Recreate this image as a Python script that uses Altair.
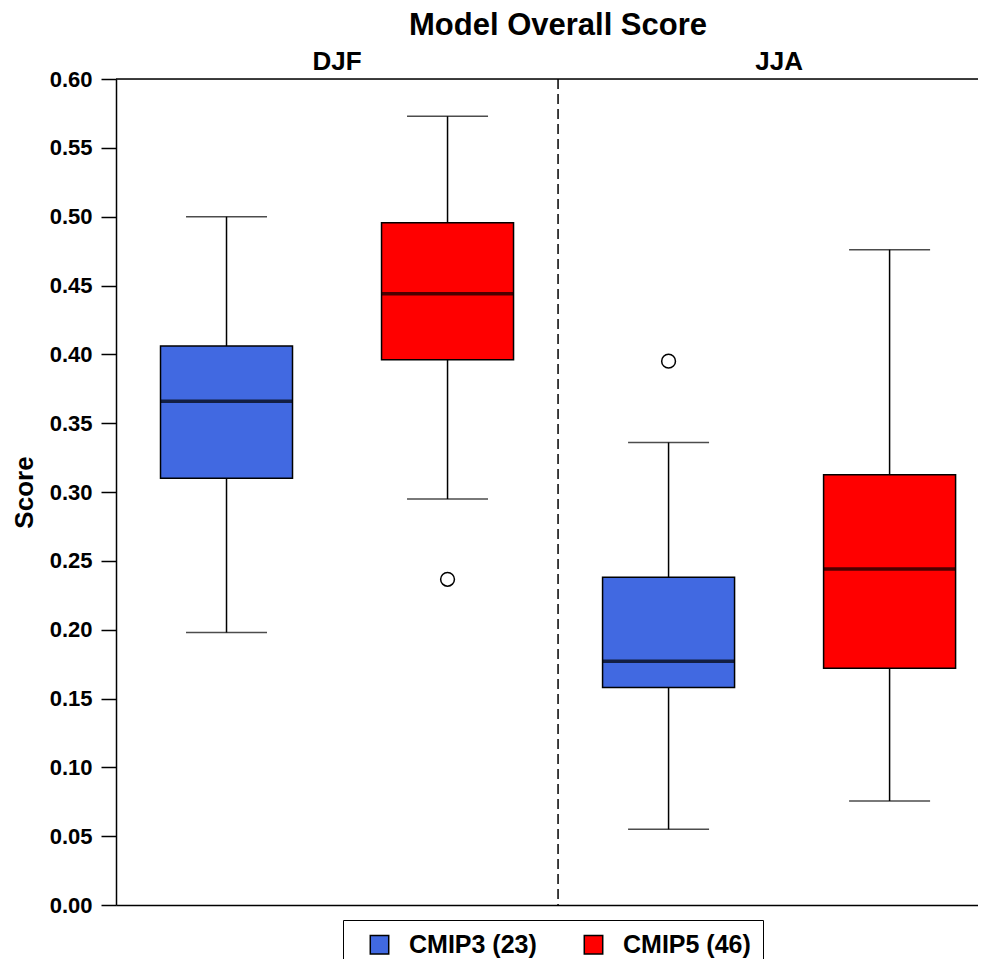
import altair as alt
import pandas as pd

# ---- data ----
seasons = ["DJF", "JJA"]
models = ["CMIP3 (23)", "CMIP5 (46)"]
model_colors = ["#4169E1", "#FF0000"]

box_season = ["DJF", "DJF", "JJA", "JJA"]
box_model = ["CMIP3 (23)", "CMIP5 (46)", "CMIP3 (23)", "CMIP5 (46)"]
whisker_low = [0.198, 0.295, 0.055, 0.0755]
quart_low = [0.310, 0.396, 0.158, 0.172]
medians = [0.366, 0.444, 0.177, 0.244]
quart_high = [0.406, 0.4955, 0.238, 0.3125]
whisker_high = [0.500, 0.573, 0.336, 0.476]

outlier_season = ["DJF", "JJA"]
outlier_model = ["CMIP5 (46)", "CMIP3 (23)"]
outlier_value = [0.2366, 0.3950]

y_ticks = [0.00, 0.05, 0.10, 0.15, 0.20, 0.25, 0.30, 0.35, 0.40, 0.45, 0.50, 0.55, 0.60]

FONT = "Liberation Sans"


def slot(season, model):
    return seasons.index(season) * len(models) + models.index(model) + 1


boxes = pd.DataFrame({
    "season": box_season,
    "model": box_model,
    "low": whisker_low,
    "q1": quart_low,
    "median": medians,
    "q3": quart_high,
    "high": whisker_high,
})
boxes["slot"] = [slot(s, m) for s, m in zip(box_season, box_model)]

outliers = pd.DataFrame({"season": outlier_season, "model": outlier_model, "value": outlier_value})
outliers["slot"] = [slot(s, m) for s, m in zip(outlier_season, outlier_model)]

headers = pd.DataFrame({"season": seasons})
headers["center"] = [i * len(models) + (len(models) + 1) / 2 for i in range(len(seasons))]

separators = pd.DataFrame({"slot": [(i + 1) * len(models) + 0.5 for i in range(len(seasons) - 1)]})

frame_top = pd.DataFrame({"y": [y_ticks[-1]]})

x_scale = alt.Scale(domain=[0.5, 4.4], nice=False, zero=False, padding=0)
y_scale = alt.Scale(domain=[y_ticks[0], y_ticks[-1]], nice=False, padding=0)

x_bottom = alt.Axis(orient="bottom", labels=False, ticks=False, grid=False, title=None,
                    domainColor="black", domainWidth=1.5)
y_axis = alt.Axis(values=y_ticks, format=".2f", grid=False,
                  labelFont=FONT, labelFontSize=22, labelFontWeight="bold", labelColor="black",
                  labelPadding=9, tickSize=15, tickWidth=1.5, tickColor="black",
                  domainColor="black", domainWidth=1.5,
                  title="Score", titleFont=FONT, titleFontSize=26, titleFontWeight="bold",
                  titleColor="black", titlePadding=12)

base = alt.Chart(boxes)

whiskers = base.mark_rule(color="black", strokeWidth=1.5).encode(
    x=alt.X("slot:Q", scale=x_scale, axis=x_bottom),
    y=alt.Y("low:Q", scale=y_scale, axis=y_axis),
    y2="high:Q",
)
caps_low = base.mark_tick(orient="horizontal", size=81, thickness=1.5, color="black").encode(
    x="slot:Q", y="low:Q")
caps_high = base.mark_tick(orient="horizontal", size=81, thickness=1.5, color="black").encode(
    x="slot:Q", y="high:Q")
bars = base.mark_bar(size=132, stroke="black", strokeWidth=1.5, opacity=1).encode(
    x="slot:Q",
    y="q1:Q",
    y2="q3:Q",
    color=alt.Color(
        "model:N",
        scale=alt.Scale(domain=models, range=model_colors),
        legend=alt.Legend(
            orient="none", legendX=227, legendY=841, direction="horizontal", title=None,
            symbolType="square", symbolSize=340, symbolStrokeColor="black", symbolStrokeWidth=1.5,
            symbolOpacity=1, labelFont=FONT, labelFontSize=25, labelFontWeight="bold",
            labelColor="black", labelOffset=17, columnPadding=32, padding=12, symbolOffset=12,
            strokeColor="black", fillColor="white", labelLimit=0,
        ),
    ),
)
median_lines = base.mark_tick(orient="horizontal", size=132, thickness=3.5, color="black").encode(
    x="slot:Q", y="median:Q")

outlier_pts = alt.Chart(outliers).mark_point(
    shape="circle", filled=False, size=190, stroke="black", strokeWidth=1.5, opacity=1
).encode(x="slot:Q", y="value:Q")

separator = alt.Chart(separators).mark_rule(color="black", strokeWidth=1.5, strokeDash=[10, 5]).encode(
    x="slot:Q")

top_line = alt.Chart(frame_top).mark_rule(color="black", strokeWidth=1.5).encode(y="y:Q")

season_labels = alt.Chart(headers).mark_text(
    font=FONT, fontSize=26, fontWeight="bold", baseline="alphabetic", color="black"
).encode(
    x="center:Q",
    y=alt.value(-9),
    text="season:N",
)

chart = alt.layer(
    separator, whiskers, caps_low, caps_high, bars, median_lines, outlier_pts, top_line, season_labels
).properties(
    width=862,
    height=826,
    autosize=alt.AutoSizeParams(type="none"),
    padding={"left": 108, "top": 71, "right": 0, "bottom": 54},
    title=alt.TitleParams("Model Overall Score", font=FONT, fontSize=31, fontWeight="bold",
                          color="black", anchor="middle", dx=11, offset=7),
).configure_view(stroke=None).configure(background="white")

chart.save("out.html", embed_options={"renderer": "svg", "actions": False})
